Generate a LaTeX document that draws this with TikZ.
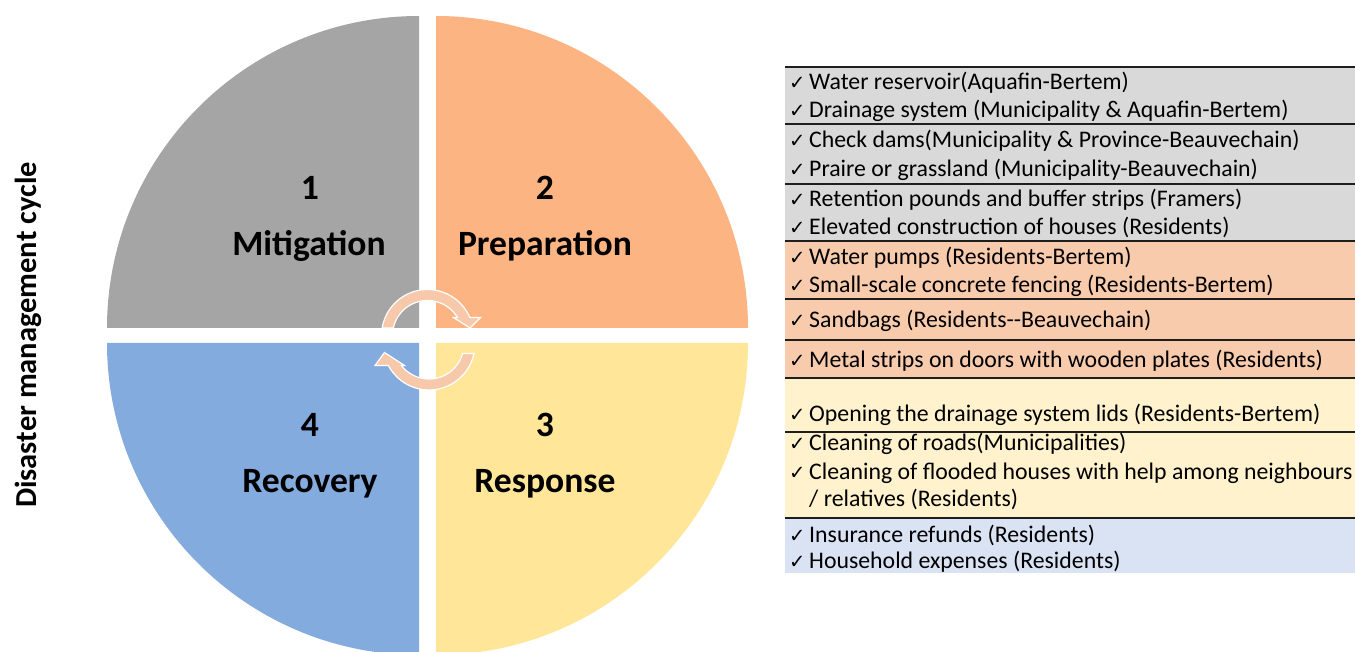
\documentclass[tikz,border=0pt]{standalone}
\usepackage{fontspec}
\setmainfont{Carlito}
\newfontfamily\symfont{DejaVu Sans}
\definecolor{qgray}{HTML}{A5A5A5}
\definecolor{qorange}{RGB}{252,180,130}
\definecolor{qblue}{RGB}{132,171,222}
\definecolor{qyellow}{RGB}{255,230,153}
\definecolor{rgray}{HTML}{D9D9D9}
\definecolor{rorange}{HTML}{F8CBAD}
\definecolor{ryellow}{HTML}{FFF2CC}
\definecolor{rblue}{HTML}{DAE3F3}
\definecolor{cycfill}{RGB}{248,200,170}
\definecolor{rule}{RGB}{30,30,30}
\newcommand\chkmark{\makebox[20pt][l]{\symfont\fontsize{19.5}{20}\selectfont ✓}}
\begin{document}
\begin{tikzpicture}[x=1pt,y=1pt,
  qlabel/.style={anchor=base,inner sep=0pt,font=\bfseries\fontsize{35.6}{40}\selectfont},
  rowtext/.style={anchor=base west,inner sep=0pt,font=\fontsize{23.8}{28}\selectfont},
  rowline/.style={draw=rule,line width=1.5pt},
  cyclearrow/.style={fill=cycfill,draw=white,line width=1.2pt,line join=miter}]
\useasboundingbox (0,0) rectangle (1355,651);

% the four quadrants of the cycle
\fill[qgray]   (419,323) -- (419,635) arc[start angle=90,end angle=180,radius=312pt] -- cycle;
\fill[qorange] (436,323) -- (748,323) arc[start angle=0,end angle=90,radius=312pt] -- cycle;
\fill[qblue]   (419,308) -- (107,308) arc[start angle=180,end angle=270,radius=312pt] -- cycle;
\fill[qyellow] (436,308) -- (436,-4) arc[start angle=270,end angle=360,radius=312pt] -- cycle;

% circular arrows in the middle
\begin{scope}[shift={(427.5,315.5)}]
  \filldraw[cyclearrow] (170.6:46pt) arc[start angle=170.6,end angle=23.05,radius=46pt]
    -- (53,18) -- (42.5,7.5) -- (26,18)
    -- (30.95:35pt) arc[start angle=30.95,end angle=167.6,radius=35pt] -- cycle;
\end{scope}
\begin{scope}[shift={(429,307)}]
  \filldraw[cyclearrow] (-11.92:46pt) arc[start angle=-11.92,end angle=-152.14,radius=46pt]
    -- (-54,-21.5) -- (-44.5,-8.5) -- (-24.5,-21.5)
    -- (-142.1:35pt) arc[start angle=-142.1,end angle=-15.75,radius=35pt] -- cycle;
\end{scope}

% phase labels
\node[qlabel] (n1) at (310,451) {1};
\node[qlabel] (mit) at (309,395) {Mitigation};
\node[qlabel] (n2) at (545,451) {2};
\node[qlabel] (pre) at (545,395) {Preparation};
\node[qlabel] (n4) at (310,214) {4};
\node[qlabel] (rec) at (310,158) {Recovery};
\node[qlabel] (n3) at (545,214) {3};
\node[qlabel] (res) at (545,158) {Response};

% side title
\node[rotate=90,anchor=base,inner sep=0pt,font=\bfseries\fontsize{30.5}{36}\selectfont] (title) at (36,316) {Disaster management cycle};

% measures table: backgrounds
\fill[rgray]   (785,410) rectangle (1355,584);
\fill[rorange] (785,273) rectangle (1355,410);
\fill[ryellow] (785,133) rectangle (1355,273);
\fill[rblue]   (785,78)  rectangle (1355,133);

% measures table: rules
\foreach \y in {584,527,467,410,352,311,273,219,133}
  \draw[rowline] (785,\y) -- (1355,\y);

% measures table: entries
\node[rowtext] (t1)  at (789,561) {\chkmark Water reservoir(Aquafin-Bertem)};
\node[rowtext] (t2)  at (789,533) {\chkmark Drainage system (Municipality \& Aquafin-Bertem)};
\node[rowtext] (t3)  at (789,503) {\chkmark Check dams(Municipality \& Province-Beauvechain)};
\node[rowtext] (t4)  at (789,474) {\chkmark Praire or grassland (Municipality-Beauvechain)};
\node[rowtext] (t5)  at (789,444) {\chkmark Retention pounds and buffer strips (Framers)};
\node[rowtext] (t6)  at (789,416) {\chkmark Elevated construction of houses (Residents)};
\node[rowtext] (t7)  at (789,386) {\chkmark Water pumps (Residents-Bertem)};
\node[rowtext] (t8)  at (789,358) {\chkmark Small-scale concrete fencing (Residents-Bertem)};
\node[rowtext] (t9)  at (789,323) {\chkmark Sandbags (Residents-{}-Beauvechain)};
\node[rowtext] (t10) at (789,283) {\chkmark Metal strips on doors with wooden plates (Residents)};
\node[rowtext] (t11) at (789,229) {\chkmark Opening the drainage system lids (Residents-Bertem)};
\node[rowtext] (t12) at (789,200) {\chkmark Cleaning of roads(Municipalities)};
\node[rowtext] (t13) at (789,171) {\chkmark Cleaning of flooded houses with help among neighbours};
\node[rowtext] (t14) at (809,144) {/ relatives (Residents)};
\node[rowtext] (t15) at (789,109) {\chkmark Insurance refunds (Residents)};
\node[rowtext] (t16) at (789,83)  {\chkmark Household expenses (Residents)};
\end{tikzpicture}
\end{document}
